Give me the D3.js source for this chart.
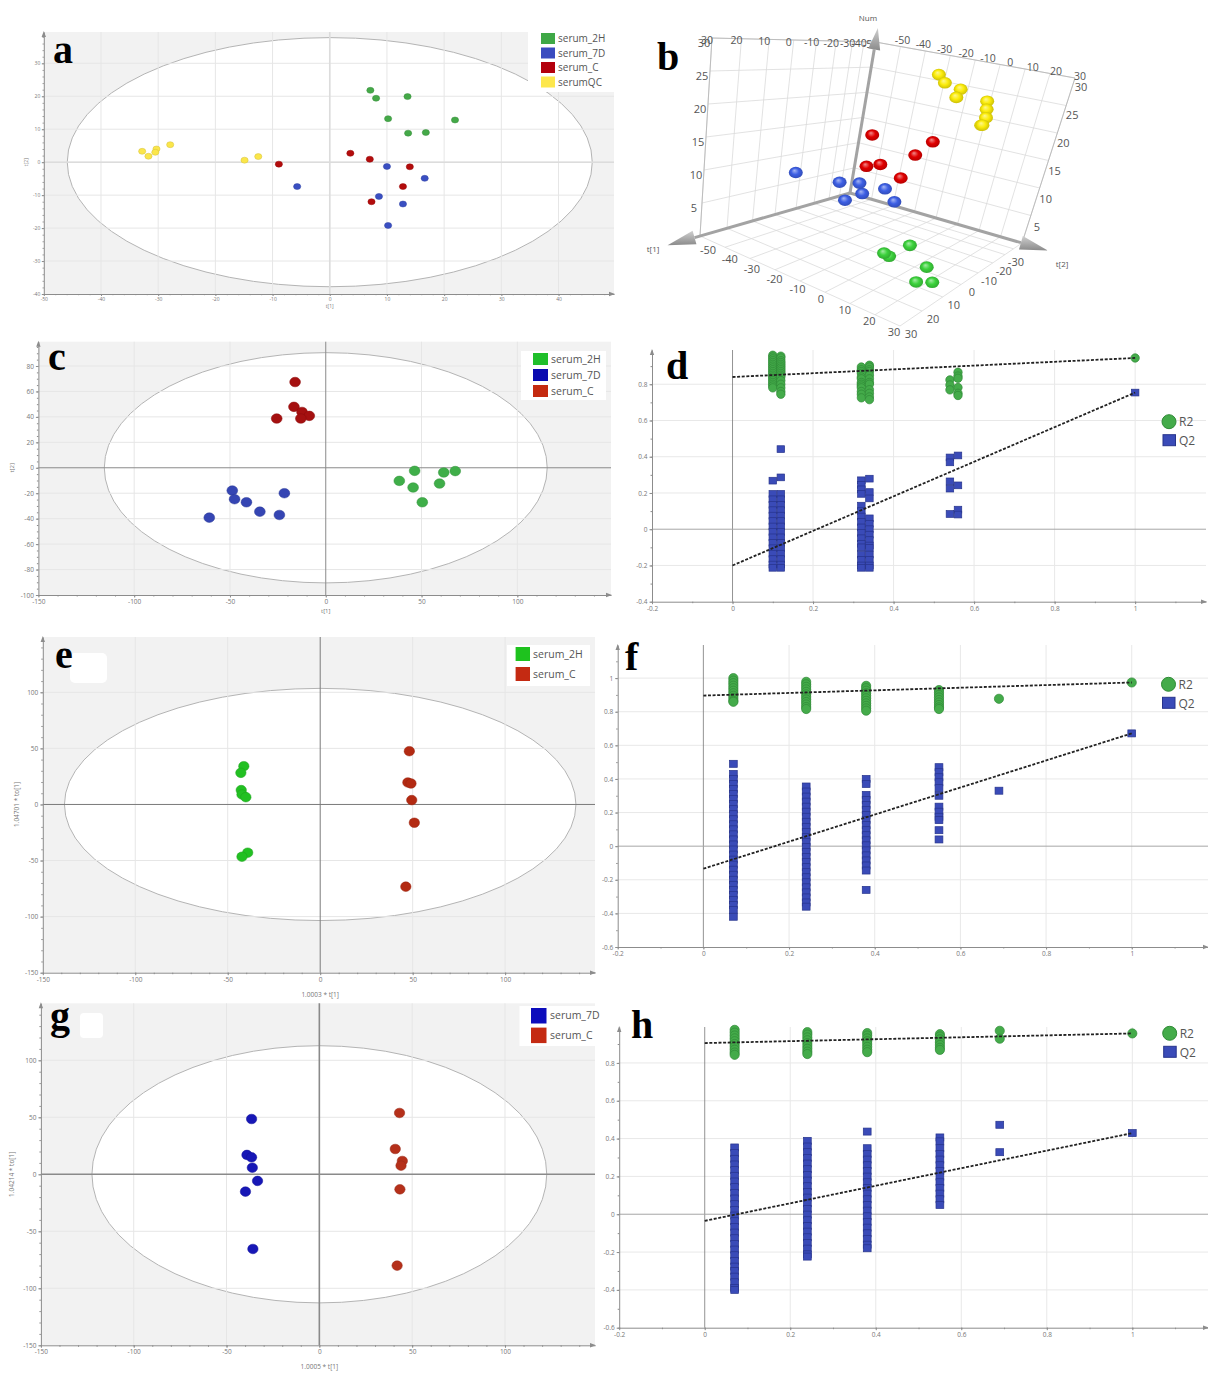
<!DOCTYPE html>
<html>
<head>
<meta charset="utf-8">
<script src="https://cdnjs.cloudflare.com/ajax/libs/d3/7.8.5/d3.min.js"></script>
<style>
body { margin: 0; background: #fff; }
svg { display: block; }
</style>
</head>
<body>
<script>
// ---------- panel a : PCA scores ----------
var aNames = ['serum_2H', 'serum_7D', 'serum_C', 'serumQC'];
var a2H_t1 = [7.1, 8.1, 13.6, 10.2, 21.9, 13.7, 16.8];
var a2H_t2 = [21.8, 19.4, 19.9, 13.2, 12.8, 8.8, 9.0];
var a7D_t1 = [10.0, -5.7, 16.6, 8.6, 12.8, 10.2];
var a7D_t2 = [-1.3, -7.4, -4.9, -10.4, -12.7, -19.2];
var aC_t1 = [3.6, 7.0, -8.9, 14.0, 12.8, 7.3];
var aC_t2 = [2.7, 0.9, -0.6, -1.4, -7.4, -12.0];
var aQC_t1 = [-32.8, -31.7, -30.3, -30.5, -27.9, -14.9, -12.5];
var aQC_t2 = [3.3, 1.8, 4.0, 3.0, 5.3, 0.6, 1.7];
var aTicksX = [-50, -40, -30, -20, -10, 0, 10, 20, 30, 40];
var aTicksY = [-40, -30, -20, -10, 0, 10, 20, 30];
var aEllipse = [45.9, 37.8];

// ---------- panel b : 3D scores (t1, t2, Num) ----------
var b2H_t1 = [8.2, 14.5, 8.7, 14.1, 17.0, 15.1];
var b2H_t2 = [23.6, 21.7, 20.5, 9.2, 9.3, 17.0];
var b2H_num = [1, 2, 3, 4, 5, 7];
var b7D_t1 = [21.9, 9.4, 9.7, 7.1, 16.0, 11.2, -3.9];
var b7D_t2 = [-23.9, -18.2, -10.4, -10.7, 4.6, -13.6, -5.8];
var b7D_num = [13, 11, 12, 10, 14, 9, 8];
var bC_t1 = [10.1, -5.4, 4.6, 14.6, 14.7, 10.2];
var bC_t2 = [-8.3, 3.2, 4.7, -4.7, 0.3, 5.0];
var bC_num = [20, 19, 18, 16, 17, 15];
var bQC_t1 = [-12.5, -11.6, -16.4, -12.4, -25.6, -22.3, -19.1, -16.6, -23.6];
var bQC_t2 = [-4.6, -1.2, 2.2, 3.7, 8.2, 10.4, 12.6, 13.4, 9.2];
var bQC_num = [29, 28, 27, 26, 25, 24, 23, 22, 21];
var bTicksT = [-50, -40, -30, -20, -10, 0, 10, 20, 30];
var bTicksNum = [0, 5, 10, 15, 20, 25, 30];

// ---------- panel c : PLS-DA scores ----------
var cNames = ['serum_2H', 'serum_7D', 'serum_C'];
var c2H_t1 = [46.4, 61.6, 67.6, 38.4, 45.6, 59.4, 50.4];
var c2H_t2 = [-2.4, -3.7, -2.6, -10.3, -15.5, -12.4, -27.1];
var c7D_t1 = [-48.8, -47.6, -41.4, -34.4, -24.2, -21.6, -60.8];
var c7D_t2 = [-17.9, -24.7, -27.1, -34.5, -37.1, -20.0, -39.2];
var cC_t1 = [-16.0, -16.6, -12.4, -8.6, -13.0, -25.6];
var cC_t2 = [67.4, 47.9, 43.9, 40.8, 38.7, 38.7];
var cTicksX = [-150, -100, -50, 0, 50, 100];
var cTicksY = [-100, -80, -60, -40, -20, 0, 20, 40, 60, 80];
var cEllipse = [115.6, 90.5];

// ---------- panel e : OPLS-DA 2H vs C ----------
var eNames = ['serum_2H', 'serum_C'];
var e2H_t1 = [-41.3, -42.9, -42.7, -42.3, -40.2, -39.2, -42.3];
var e2H_to = [34.1, 28.2, 12.8, 8.9, 6.5, -43.0, -46.6];
var eC_t1 = [48.2, 47.4, 49.1, 49.5, 50.9, 46.3];
var eC_to = [47.5, 19.6, 18.7, 3.9, -16.3, -73.3];
var eTicksX = [-150, -100, -50, 0, 50, 100];
var eTicksY = [-150, -100, -50, 0, 50, 100];
var eEllipse = [138.3, 103.5];

// ---------- panel g : OPLS-DA 7D vs C ----------
var gNames = ['serum_7D', 'serum_C'];
var g7D_t1 = [-36.5, -39.0, -36.5, -36.1, -33.3, -39.8, -35.8];
var g7D_to = [48.5, 17.0, 14.9, 5.8, -5.8, -15.2, -65.5];
var gC_t1 = [43.2, 40.9, 44.7, 44.0, 43.4, 41.9];
var gC_to = [53.8, 22.2, 11.7, 7.6, -13.2, -80.1];
var gEllipse = [122.5, 112.8];

// ---------- permutation tests d, f, h ----------
var permTicksX = [-0.2, 0, 0.2, 0.4, 0.6, 0.8, 1];
var dTicksY = [-0.4, -0.2, 0, 0.2, 0.4, 0.6, 0.8];
var fTicksY = [-0.6, -0.4, -0.2, 0, 0.2, 0.4, 0.6, 0.8, 1];
var hTicksY = [-0.6, -0.4, -0.2, 0, 0.2, 0.4, 0.6, 0.8];

var dPermX = [0.10, 0.12, 0.32, 0.34, 0.54, 0.56, 1.0];
var dR2 = [
  [0.96, 0.95, 0.94, 0.93, 0.92, 0.91, 0.90, 0.89, 0.88, 0.87, 0.86, 0.85, 0.84, 0.83, 0.82, 0.81, 0.80, 0.79, 0.78],
  [0.955, 0.945, 0.93, 0.92, 0.91, 0.90, 0.89, 0.88, 0.87, 0.86, 0.85, 0.84, 0.82, 0.80, 0.78, 0.76, 0.745],
  [0.895, 0.88, 0.87, 0.86, 0.84, 0.83, 0.81, 0.80, 0.79, 0.78, 0.76, 0.745, 0.725],
  [0.905, 0.895, 0.88, 0.87, 0.85, 0.83, 0.81, 0.80, 0.77, 0.75, 0.73, 0.715],
  [0.824, 0.796, 0.769],
  [0.866, 0.845, 0.833, 0.782, 0.75, 0.738],
  [0.945]
];
var dQ2 = [
  [0.268, 0.195, 0.165, 0.135, 0.105, 0.075, 0.045, 0.015, -0.015, -0.045, -0.075, -0.105, -0.135, -0.165, -0.195, -0.213],
  [0.442, 0.286, 0.195, 0.165, 0.135, 0.105, 0.075, 0.045, 0.015, -0.015, -0.045, -0.075, -0.105, -0.135, -0.165, -0.195, -0.213],
  [0.27, 0.245, 0.22, 0.195, 0.13, 0.10, 0.07, 0.04, 0.01, -0.02, -0.05, -0.08, -0.10, -0.14, -0.17, -0.20, -0.213],
  [0.279, 0.205, 0.17, 0.06, 0.03, 0.00, -0.03, -0.06, -0.09, -0.103, -0.14, -0.17, -0.20, -0.213],
  [0.396, 0.369, 0.264, 0.224, 0.084],
  [0.407, 0.242, 0.108, 0.081],
  [0.754]
];
var dR2Line = [0.84, 0.945];
var dQ2Line = [-0.2, 0.754];

var fPermX = [0.07, 0.24, 0.38, 0.55, 0.69, 1.0];
var fR2 = [
  [1.0, 0.985, 0.97, 0.955, 0.94, 0.925, 0.91, 0.895, 0.88, 0.865, 0.859],
  [0.978, 0.963, 0.948, 0.933, 0.918, 0.903, 0.888, 0.873, 0.858, 0.843, 0.828, 0.816],
  [0.954, 0.94, 0.925, 0.91, 0.895, 0.88, 0.865, 0.85, 0.835, 0.82, 0.806],
  [0.929, 0.915, 0.90, 0.885, 0.87, 0.855, 0.84, 0.826, 0.816],
  [0.877],
  [0.974]
];
var fQ2 = [
  [0.49, 0.43, 0.40, 0.37, 0.34, 0.31, 0.28, 0.25, 0.22, 0.19, 0.16, 0.13, 0.10, 0.07, 0.04, 0.01, -0.02, -0.05, -0.08, -0.11, -0.14, -0.17, -0.20, -0.23, -0.26, -0.29, -0.32, -0.35, -0.38, -0.42],
  [0.355, 0.325, 0.295, 0.265, 0.235, 0.205, 0.175, 0.145, 0.115, 0.085, 0.055, 0.025, -0.005, -0.035, -0.065, -0.095, -0.125, -0.155, -0.185, -0.215, -0.245, -0.275, -0.305, -0.335, -0.36],
  [0.40, 0.37, 0.305, 0.275, 0.245, 0.215, 0.185, 0.155, 0.125, 0.095, 0.065, 0.035, 0.005, -0.025, -0.055, -0.085, -0.115, -0.145, -0.26],
  [0.47, 0.44, 0.41, 0.38, 0.345, 0.30, 0.235, 0.205, 0.175, 0.155, 0.095, 0.04],
  [0.33],
  [0.671]
];
var fR2Line = [0.896, 0.974];
var fQ2Line = [-0.134, 0.671];

var hPermX = [0.07, 0.24, 0.38, 0.55, 0.69, 1.0];
var hR2 = [
  [0.975, 0.96, 0.945, 0.93, 0.915, 0.90, 0.885, 0.87, 0.855, 0.843],
  [0.963, 0.95, 0.935, 0.92, 0.905, 0.89, 0.875, 0.86, 0.847],
  [0.958, 0.945, 0.93, 0.915, 0.90, 0.885, 0.87, 0.857],
  [0.952, 0.94, 0.925, 0.91, 0.895, 0.88, 0.869],
  [0.97, 0.928],
  [0.956]
];
var hQ2 = [
  [0.353, 0.323, 0.293, 0.263, 0.233, 0.203, 0.173, 0.143, 0.113, 0.083, 0.053, 0.023, -0.007, -0.037, -0.067, -0.097, -0.127, -0.157, -0.187, -0.217, -0.247, -0.277, -0.30, -0.33, -0.36, -0.39, -0.40],
  [0.388, 0.358, 0.328, 0.298, 0.268, 0.238, 0.208, 0.178, 0.148, 0.118, 0.088, 0.058, 0.028, -0.002, -0.032, -0.062, -0.092, -0.122, -0.152, -0.182, -0.212, -0.224],
  [0.437, 0.349, 0.319, 0.289, 0.259, 0.229, 0.199, 0.169, 0.139, 0.109, 0.079, 0.049, 0.019, -0.011, -0.041, -0.071, -0.101, -0.131, -0.161, -0.18],
  [0.406, 0.385, 0.349, 0.319, 0.289, 0.259, 0.229, 0.199, 0.169, 0.139, 0.109, 0.079, 0.049],
  [0.473, 0.328],
  [0.429]
];
var hR2Line = [0.905, 0.956];
var hQ2Line = [-0.035, 0.429];

// ----------------------------------------------------------------
var SANS = '"Open Sans", "DejaVu Sans", sans-serif';
var SERIF = '"Liberation Serif", "DejaVu Serif", serif';
var svg = d3.select('body').append('svg').attr('width', 1208).attr('height', 1373);
var defs = svg.append('defs');

function letter(t, x, y) {
  svg.append('text').attr('x', x).attr('y', y).text(t)
    .attr('font-family', SERIF).attr('font-weight', 'bold').attr('font-size', 40).attr('fill', '#000');
}

function styleAxis(s, fs) {
  s.attr('font-family', SANS).attr('font-size', fs);
  s.selectAll('.domain').attr('stroke', '#8c8c8c');
  s.selectAll('.tick line').attr('stroke', '#8c8c8c');
  s.selectAll('.tick text').attr('fill', '#777');
}

function axesPair(g, x, y, o) {
  var yb = y.range()[0], yt = y.range()[1], x0 = x.range()[0], x1 = x.range()[1];
  var ax = g.append('g').attr('transform', 'translate(0,' + yb + ')')
    .call(d3.axisBottom(x).tickValues(o.xt).tickSize(o.tk).tickPadding(o.pad).tickSizeOuter(0).tickFormat(String));
  var axm = g.append('g').attr('transform', 'translate(0,' + yb + ')')
    .call(d3.axisBottom(x).tickValues(o.xm).tickSize(o.tk * 0.6).tickFormat(''));
  axm.select('.domain').remove();
  var ay = g.append('g').attr('transform', 'translate(' + x0 + ',0)')
    .call(d3.axisLeft(y).tickValues(o.yt).tickSize(o.tk).tickPadding(o.pad).tickSizeOuter(0).tickFormat(String));
  var aym = g.append('g').attr('transform', 'translate(' + x0 + ',0)')
    .call(d3.axisLeft(y).tickValues(o.ym).tickSize(o.tk * 0.6).tickFormat(''));
  aym.select('.domain').remove();
  [ax, axm, ay, aym].forEach(function (s) { styleAxis(s, o.fs); });
  g.append('path').attr('d', 'M' + (x1 + 1) + ',' + yb + 'l-6,-2.2v4.4z').attr('fill', '#8c8c8c');
  g.append('path').attr('d', 'M' + x0 + ',' + (yt - 1) + 'l-2.2,6h4.4z').attr('fill', '#8c8c8c');
}

function legendBox(g, o) {
  g.append('rect').attr('x', o.box[0]).attr('y', o.box[1]).attr('width', o.box[2]).attr('height', o.box[3]).attr('fill', '#fff');
  o.items.forEach(function (it, i) {
    var yy = o.sy + i * o.dy;
    g.append('rect').attr('x', o.sx).attr('y', yy).attr('width', o.sw).attr('height', o.sh).attr('fill', it[1]);
    g.append('text').attr('x', o.tx).attr('y', yy + o.sh / 2).attr('dy', '0.35em').text(it[0])
      .attr('font-family', SANS).attr('font-size', o.fs).attr('fill', '#555');
  });
}

function scorePlot(o) {
  var g = svg.append('g');
  var x = d3.scaleLinear().domain(o.xd).range(o.xr);
  var y = d3.scaleLinear().domain(o.yd).range(o.yr);
  var x0 = o.xr[0], x1 = o.xr[1], yb = o.yr[0], yt = o.yr[1];
  g.append('rect').attr('x', x0).attr('y', yt).attr('width', x1 - x0).attr('height', yb - yt).attr('fill', '#f2f2f2');
  g.append('ellipse').attr('cx', x(0)).attr('cy', y(0))
    .attr('rx', x(o.ell[0]) - x(0)).attr('ry', y(0) - y(o.ell[1]))
    .attr('fill', '#fff').attr('stroke', '#b4b4b4').attr('stroke-width', 1);
  o.gx.forEach(function (v) {
    g.append('line').attr('x1', x(v)).attr('x2', x(v)).attr('y1', yt).attr('y2', yb).attr('stroke', '#e6e6e6');
  });
  o.gy.forEach(function (v) {
    g.append('line').attr('x1', x0).attr('x2', x1).attr('y1', y(v)).attr('y2', y(v)).attr('stroke', '#e6e6e6');
  });
  g.append('line').attr('x1', x(0)).attr('x2', x(0)).attr('y1', yt).attr('y2', yb).attr('stroke', o.zc).attr('stroke-width', o.zw);
  g.append('line').attr('x1', x0).attr('x2', x1).attr('y1', y(0)).attr('y2', y(0)).attr('stroke', o.zc).attr('stroke-width', o.zw);
  axesPair(g, x, y, o);
  o.groups.forEach(function (gr) {
    g.selectAll(null).data(d3.zip(gr.x, gr.y)).enter().append('ellipse')
      .attr('cx', function (d) { return x(d[0]); })
      .attr('cy', function (d) { return y(d[1]); })
      .attr('rx', o.pr[0]).attr('ry', o.pr[1])
      .attr('fill', gr.color).attr('stroke', d3.color(gr.color).darker(0.5)).attr('stroke-width', 0.5);
  });
  legendBox(g, o.leg);
  g.append('text').attr('x', x(0)).attr('y', o.xtY).attr('text-anchor', 'middle').text(o.xTitle)
    .attr('font-family', SANS).attr('font-size', o.tfs).attr('fill', '#777');
  g.append('text').attr('transform', 'translate(' + o.ytX + ',' + y(0) + ') rotate(-90)')
    .attr('text-anchor', 'middle').text(o.yTitle)
    .attr('font-family', SANS).attr('font-size', o.tfs).attr('fill', '#777');
  return g;
}

function permPlot(o) {
  var g = svg.append('g');
  var x = d3.scaleLinear().domain(o.xd).range(o.xr);
  var y = d3.scaleLinear().domain(o.yd).range(o.yr);
  var x0 = o.xr[0], x1 = o.xr[1], yb = o.yr[0], yt = o.yr[1];
  permTicksX.filter(function (v) { return v > o.xd[0] && v !== 0; }).forEach(function (v) {
    g.append('line').attr('x1', x(v)).attr('x2', x(v)).attr('y1', yt).attr('y2', yb).attr('stroke', '#e8e8e8');
  });
  o.yt.filter(function (v) { return v > o.yd[0] && v !== 0; }).forEach(function (v) {
    g.append('line').attr('x1', x0).attr('x2', x1).attr('y1', y(v)).attr('y2', y(v)).attr('stroke', '#e8e8e8');
  });
  g.append('line').attr('x1', x(0)).attr('x2', x(0)).attr('y1', yt).attr('y2', yb).attr('stroke', '#777').attr('stroke-width', 0.8);
  g.append('line').attr('x1', x0).attr('x2', x1).attr('y1', y(0)).attr('y2', y(0)).attr('stroke', '#a6a6a6').attr('stroke-width', 1);
  axesPair(g, x, y, o);
  o.px.forEach(function (xv, i) {
    g.selectAll(null).data(o.r2[i]).enter().append('circle')
      .attr('cx', x(xv)).attr('cy', function (d) { return y(d); }).attr('r', o.cr)
      .attr('fill', '#44ab4a').attr('stroke', '#2f8a36').attr('stroke-width', 0.7);
    g.selectAll(null).data(o.q2[i]).enter().append('rect')
      .attr('x', x(xv) - o.sq / 2).attr('y', function (d) { return y(d) - o.sq * 0.45; })
      .attr('width', o.sq).attr('height', o.sq * 0.9)
      .attr('fill', '#3a4bb8').attr('stroke', '#27348c').attr('stroke-width', 0.7);
  });
  [o.r2Line, o.q2Line].forEach(function (ln) {
    g.append('line').attr('x1', x(0)).attr('y1', y(ln[0])).attr('x2', x(1)).attr('y2', y(ln[1]))
      .attr('stroke', '#222').attr('stroke-width', 1.8).attr('stroke-dasharray', '3,1.6');
  });
  g.append('circle').attr('cx', o.leg[0]).attr('cy', o.leg[1]).attr('r', 7)
    .attr('fill', '#44ab4a').attr('stroke', '#2f8a36');
  g.append('rect').attr('x', o.leg[0] - 6).attr('y', o.leg[1] + 13).attr('width', 12.5).attr('height', 11)
    .attr('fill', '#3a4bb8').attr('stroke', '#27348c');
  g.append('text').attr('x', o.leg[0] + 10).attr('y', o.leg[1]).attr('dy', '0.35em').text('R2')
    .attr('font-family', SANS).attr('font-size', 12).attr('fill', '#555');
  g.append('text').attr('x', o.leg[0] + 10).attr('y', o.leg[1] + 19).attr('dy', '0.35em').text('Q2')
    .attr('font-family', SANS).attr('font-size', 12).attr('fill', '#555');
}

// ---------------- panel a ----------------
scorePlot({
  xd: [-50, 49.7], xr: [43.8, 614], yd: [-40, 39.5], yr: [294, 32],
  xt: aTicksX, yt: aTicksY, xm: d3.range(-50, 50, 2), ym: d3.range(-40, 40, 2),
  tk: 2, pad: 1.5, fs: 5,
  gx: aTicksX.slice(1), gy: aTicksY.slice(1), zc: '#dcdcdc', zw: 1.6,
  ell: aEllipse, pr: [3.6, 3.0],
  groups: [
    { x: a2H_t1, y: a2H_t2, color: '#44a948' },
    { x: a7D_t1, y: a7D_t2, color: '#3a4fc2' },
    { x: aC_t1, y: aC_t2, color: '#b30c0c' },
    { x: aQC_t1, y: aQC_t2, color: '#fbe64a' }
  ],
  leg: { box: [528, 30, 86, 62], sx: 541, sy: 33, dy: 14.5, sw: 14, sh: 11, tx: 558, fs: 10,
    items: [[aNames[0], '#3fa846'], [aNames[1], '#3a4bbf'], [aNames[2], '#b3000c'], [aNames[3], '#fde74c']] },
  xTitle: 't[1]', yTitle: 't[2]', xtY: 308, ytX: 28, tfs: 5
});
letter('a', 53, 63);

// ---------------- panel c ----------------
scorePlot({
  xd: [-150, 148.9], xr: [38.4, 611], yd: [-100, 99.1], yr: [595, 341.7],
  xt: cTicksX, yt: cTicksY, xm: d3.range(-150, 150, 10), ym: d3.range(-100, 100, 5),
  tk: 2.5, pad: 2, fs: 6.5,
  gx: [-100, -50, 50, 100], gy: [-80, -60, -40, -20, 20, 40, 60, 80], zc: '#8a8a8a', zw: 1,
  ell: cEllipse, pr: [5.4, 4.8],
  groups: [
    { x: c2H_t1, y: c2H_t2, color: '#3fae49' },
    { x: c7D_t1, y: c7D_t2, color: '#3545b3' },
    { x: cC_t1, y: cC_t2, color: '#a51010' }
  ],
  leg: { box: [521, 351, 85, 49], sx: 533, sy: 353, dy: 16, sw: 15, sh: 12, tx: 551, fs: 10.5,
    items: [[cNames[0], '#1fbf2a'], [cNames[1], '#0a0ab0'], [cNames[2], '#c42a10']] },
  xTitle: 't[1]', yTitle: 't[2]', xtY: 613, ytX: 14, tfs: 6
});
letter('c', 48, 370);

// ---------------- panel e ----------------
scorePlot({
  xd: [-150, 148.6], xr: [42.8, 595], yd: [-150, 149.3], yr: [972.7, 637],
  xt: eTicksX, yt: eTicksY, xm: d3.range(-150, 150, 10), ym: d3.range(-150, 150, 10),
  tk: 2.5, pad: 2, fs: 6.5,
  gx: [-100, -50, 50, 100], gy: [-100, -50, 50, 100], zc: '#7a7a7a', zw: 1,
  ell: eEllipse, pr: [5.2, 4.8],
  groups: [
    { x: e2H_t1, y: e2H_to, color: '#22c022' },
    { x: eC_t1, y: eC_to, color: '#b32a12' }
  ],
  leg: { box: [507, 645, 83, 41], sx: 515.6, sy: 647, dy: 20, sw: 14.4, sh: 14, tx: 533, fs: 10.5,
    items: [[eNames[0], '#1ec21e'], [eNames[1], '#c42a12']] },
  xTitle: '1.0003 * t[1]', yTitle: '1.04701 * to[1]', xtY: 997, ytX: 19, tfs: 6.5
});
svg.append('rect').attr('x', 70).attr('y', 653).attr('width', 37).attr('height', 30).attr('rx', 5).attr('fill', '#fff');
letter('e', 55, 668);

// ---------------- panel g ----------------
scorePlot({
  xd: [-150, 148.5], xr: [40.9, 595], yd: [-150, 150], yr: [1345.3, 1003.3],
  xt: eTicksX, yt: eTicksY, xm: d3.range(-150, 150, 10), ym: d3.range(-150, 150, 10),
  tk: 2.5, pad: 2, fs: 6.5,
  gx: [-100, -50, 50, 100], gy: [-100, -50, 50, 100], zc: '#8a8a8a', zw: 1.6,
  ell: gEllipse, pr: [5.2, 4.8],
  groups: [
    { x: g7D_t1, y: g7D_to, color: '#1717b6' },
    { x: gC_t1, y: gC_to, color: '#b5301a' }
  ],
  leg: { box: [519.5, 1006, 78, 40], sx: 531, sy: 1008, dy: 19.6, sw: 15.5, sh: 15.5, tx: 550, fs: 10.5,
    items: [[gNames[0], '#0c0cbc'], [gNames[1], '#c42a12']] },
  xTitle: '1.0005 * t[1]', yTitle: '1.04214 * to[1]', xtY: 1369, ytX: 14, tfs: 6.5
});
svg.append('rect').attr('x', 80).attr('y', 1013).attr('width', 23).attr('height', 25).attr('rx', 4).attr('fill', '#fff');
letter('g', 50, 1029);

// ---------------- panels d, f, h ----------------
permPlot({
  xd: [-0.2, 1.176], xr: [652, 1206], yd: [-0.4, 0.989], yr: [601.7, 350],
  xt: permTicksX, yt: dTicksY, xm: d3.range(-0.2, 1.15, 0.1), ym: d3.range(-0.4, 0.95, 0.1),
  tk: 2.5, pad: 2, fs: 6.5, px: dPermX, r2: dR2, q2: dQ2, r2Line: dR2Line, q2Line: dQ2Line,
  cr: 4.2, sq: 7.5, leg: [1169, 421.7]
});
letter('d', 666, 379);

permPlot({
  xd: [-0.2, 1.178], xr: [617.7, 1208], yd: [-0.6, 1.197], yr: [947, 645],
  xt: permTicksX, yt: fTicksY, xm: d3.range(-0.2, 1.15, 0.1), ym: d3.range(-0.6, 1.15, 0.1),
  tk: 2.5, pad: 2, fs: 6.5, px: fPermX, r2: fR2, q2: fQ2, r2Line: fR2Line, q2Line: fQ2Line,
  cr: 4.6, sq: 7.8, leg: [1168.5, 684.3]
});
letter('f', 625, 670);

permPlot({
  xd: [-0.2, 1.177], xr: [619.2, 1208], yd: [-0.6, 0.99], yr: [1327.7, 1027],
  xt: permTicksX, yt: hTicksY, xm: d3.range(-0.2, 1.15, 0.1), ym: d3.range(-0.6, 0.95, 0.1),
  tk: 2.5, pad: 2, fs: 6.5, px: hPermX, r2: hR2, q2: hQ2, r2Line: hR2Line, q2Line: hQ2Line,
  cr: 4.6, sq: 7.8, leg: [1169.7, 1033.3]
});
letter('h', 631, 1038);

// ---------------- panel b (3D) ----------------
(function () {
  var g = svg.append('g');
  // screen corners of the box (bottom: O back, L left, R right, F front; then the same on top)
  var C = [[850, 193], [700, 236], [1022, 243], [900, 326], [875.5, 42], [712, 38], [1075, 78], [940, 115]];
  var su = d3.scaleLinear().domain(bTicksT).range([0, 0.07, 0.14, 0.24, 0.36, 0.5, 0.65, 0.82, 1]);
  var sv = d3.scaleLinear().domain([-50, 30]).range([0, 1]);
  var sw = d3.scaleLinear().domain([0, 30]).range([0, 1]);
  function P(t1, t2, n) {
    var a = su(t1), b = sv(t2), c = sw(n);
    var k = [(1 - a) * (1 - b) * (1 - c), a * (1 - b) * (1 - c), (1 - a) * b * (1 - c), a * b * (1 - c),
             (1 - a) * (1 - b) * c, a * (1 - b) * c, (1 - a) * b * c, a * b * c];
    var px = 0, py = 0;
    for (var i = 0; i < 8; i++) { px += k[i] * C[i][0]; py += k[i] * C[i][1]; }
    return [px, py];
  }
  function seg(p, q, col, wd) {
    g.append('line').attr('x1', p[0]).attr('y1', p[1]).attr('x2', q[0]).attr('y2', q[1])
      .attr('stroke', col).attr('stroke-width', wd);
  }
  var gc = '#dadada';
  bTicksT.forEach(function (t) {
    seg(P(t, -50, 0), P(t, -50, 30), gc, 0.8);
    seg(P(t, -50, 0), P(t, 30, 0), gc, 0.8);
    seg(P(-50, t, 0), P(-50, t, 30), gc, 0.8);
    seg(P(-50, t, 0), P(30, t, 0), gc, 0.8);
  });
  bTicksNum.forEach(function (n) {
    seg(P(-50, -50, n), P(30, -50, n), gc, 0.8);
    seg(P(-50, -50, n), P(-50, 30, n), gc, 0.8);
  });
  seg(P(30, -50, 0), P(30, -50, 30), '#bdbdbd', 1);
  seg(P(-50, 30, 0), P(-50, 30, 30), '#bdbdbd', 1);
  seg(P(30, -50, 30), P(-50, -50, 30), '#bdbdbd', 1);
  seg(P(-50, -50, 30), P(-50, 30, 30), '#bdbdbd', 1);

  function lab(txt, p, dx, dy, fs) {
    g.append('text').attr('x', p[0] + dx).attr('y', p[1] + dy).attr('text-anchor', 'middle').attr('dy', '0.35em')
      .text(txt).attr('font-family', SANS).attr('font-size', fs || 11).attr('fill', '#555');
  }
  // tick labels (drawn under the arrows, as in the original)
  bTicksT.slice().reverse().forEach(function (t) { lab(t, P(t, -50, 30), -5, 2, 10.5); });
  bTicksT.forEach(function (t) { lab(t, P(-50, t, 30), 5 + 22 * Math.pow(1 - sv(t), 1.5), -2, 10.5); });
  bTicksNum.slice(1).forEach(function (n) {
    lab(n, P(30, -50, n), -8, 5);
    lab(n, P(-50, 30, n), 6, 12 - n / 10);
  });
  bTicksT.forEach(function (t) {
    var q = 1 - sv(t);
    lab(t, P(30, t, 0), -6 + 14 * q * q, 6 + 8 * q * q);
  });
  [-30, -20, -10, 0, 10, 20, 30].forEach(function (t) { lab(t, P(t, 30, 0), 11, 8); });

  var cone = defs.append('linearGradient').attr('id', 'cone').attr('x1', 0).attr('y1', 0).attr('x2', 0).attr('y2', 1);
  cone.append('stop').attr('offset', '0%').attr('stop-color', '#d0d0d0');
  cone.append('stop').attr('offset', '100%').attr('stop-color', '#8a8a8a');
  function arrow(p0, tip, hw, hl) {
    var dx = tip[0] - p0[0], dy = tip[1] - p0[1], len = Math.sqrt(dx * dx + dy * dy);
    var ux = dx / len, uy = dy / len;
    var base = [tip[0] - ux * hl, tip[1] - uy * hl];
    seg(p0, base, '#a3a3a3', 3);
    g.append('path').attr('d', 'M' + tip[0] + ',' + tip[1] +
      'L' + (base[0] - uy * hw) + ',' + (base[1] + ux * hw) +
      'L' + (base[0] + uy * hw) + ',' + (base[1] - ux * hw) + 'Z').attr('fill', 'url(#cone)');
  }
  var org = P(-50, -50, 0);
  arrow(org, P(42, -50, 0), 7, 28);
  arrow(org, P(-50, 42, 0), 7, 28);
  arrow(org, P(-50, -50, 32.8), 6, 22);

  g.append('text').attr('x', 653).attr('y', 252).attr('text-anchor', 'middle').text('t[1]')
    .attr('font-family', SANS).attr('font-size', 8).attr('fill', '#555');
  g.append('text').attr('x', 1062).attr('y', 267).attr('text-anchor', 'middle').text('t[2]')
    .attr('font-family', SANS).attr('font-size', 8).attr('fill', '#555');
  g.append('text').attr('x', 868).attr('y', 21).attr('text-anchor', 'middle').text('Num')
    .attr('font-family', SANS).attr('font-size', 8).attr('fill', '#555');

  function grad(id, c) {
    var gr = defs.append('radialGradient').attr('id', id).attr('cx', '50%').attr('cy', '50%').attr('r', '55%')
      .attr('fx', '40%').attr('fy', '32%');
    gr.append('stop').attr('offset', '0%').attr('stop-color', d3.interpolateRgb(c, '#ffffff')(0.55));
    gr.append('stop').attr('offset', '50%').attr('stop-color', c);
    gr.append('stop').attr('offset', '100%').attr('stop-color', d3.color(c).darker(0.7));
  }
  grad('sg', '#3cd23c'); grad('sb', '#3d5fe4'); grad('sr', '#e00000'); grad('sy', '#fbec0a');
  var pts = [];
  [[b2H_t1, b2H_t2, b2H_num, 'sg'], [b7D_t1, b7D_t2, b7D_num, 'sb'],
   [bC_t1, bC_t2, bC_num, 'sr'], [bQC_t1, bQC_t2, bQC_num, 'sy']].forEach(function (s) {
    s[0].forEach(function (v, i) { pts.push({ t1: v, t2: s[1][i], n: s[2][i], id: s[3] }); });
  });
  pts.sort(function (p, q) { return (su(p.t1) + sv(p.t2)) - (su(q.t1) + sv(q.t2)); });
  g.selectAll(null).data(pts).enter().append('ellipse')
    .attr('cx', function (d) { return P(d.t1, d.t2, d.n)[0]; })
    .attr('cy', function (d) { return P(d.t1, d.t2, d.n)[1]; })
    .attr('rx', 7).attr('ry', 5.8)
    .attr('fill', function (d) { return 'url(#' + d.id + ')'; });
})();
letter('b', 657, 70);
</script>
</body>
</html>
